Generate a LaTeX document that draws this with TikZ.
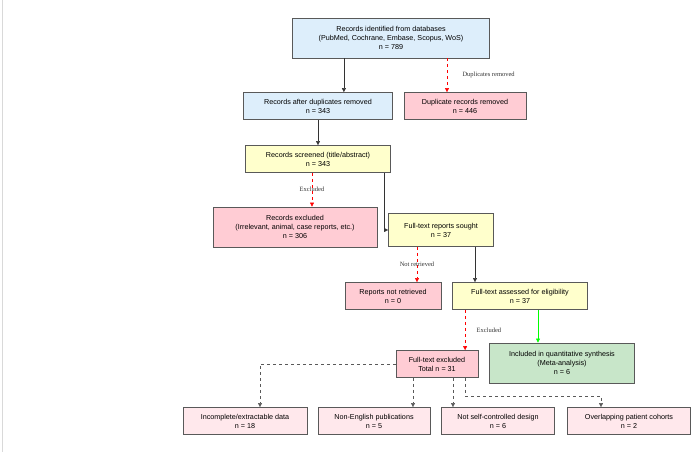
\documentclass[tikz,border=0pt]{standalone}
\usepackage{fontspec}
\setmainfont{Liberation Sans}
\newfontfamily\lblfont{Liberation Serif}
\usetikzlibrary{arrows.meta}
\definecolor{idblue}{HTML}{DDEEFB}
\definecolor{exred}{HTML}{FFCCD4}
\definecolor{scyellow}{HTML}{FFFFCC}
\definecolor{ingreen}{HTML}{C8E6C9}
\definecolor{rspink}{HTML}{FFE8EC}
\begin{document}
\begin{tikzpicture}[x=1pt, y=-1pt, font=\fontsize{7.2}{9}\selectfont,
  box/.style={draw=black!65, thick, align=center, inner sep=1pt, minimum height=27pt},
  flow/.style={-{Triangle[length=4pt,width=4pt]}, black!80},
  drop/.style={-{Triangle[length=4pt,width=4pt]}, red, dashed},
  reason/.style={-{Triangle[length=4pt,width=4pt]}, black!65, dashed},
  lbl/.style={font=\lblfont\fontsize{6.5}{8}\selectfont, text=black!80}]
\useasboundingbox (0,0) rectangle (700,452);
\draw[black!15] (2,0) -- (2,452);
% identification
\node (ident) [box, fill=idblue, minimum width=197pt, minimum height=40pt] at (391,38)
  {Records identified from databases\\(PubMed, Cochrane, Embase, Scopus, WoS)\\n = 789};
\node (dedup) [box, fill=idblue, minimum width=149pt] at (318,106) {Records after duplicates removed\\n = 343};
\node (dupl) [box, fill=exred, minimum width=122pt] at (465,106) {Duplicate records removed\\n = 446};
% screening
\node (screen) [box, fill=scyellow, minimum width=145pt] at (318,159) {Records screened (title/abstract)\\n = 343};
\node (recex) [box, fill=exred, minimum width=164pt, minimum height=40pt] at (295,227)
  {Records excluded\\(Irrelevant, animal, case reports, etc.)\\n = 306};
\node (sought) [box, fill=scyellow, minimum width=105pt, minimum height=33pt] at (441,230) {Full-text reports sought\\n = 37};
\node (notret) [box, fill=exred, minimum width=96pt] at (393,296) {Reports not retrieved\\n = 0};
\node (assess) [box, fill=scyellow, minimum width=135pt] at (520,296) {Full-text assessed for eligibility\\n = 37};
% included / excluded
\node (ftex) [box, fill=exred, minimum width=82pt] at (437,364) {Full-text excluded\\Total n = 31};
\node (incl) [box, fill=ingreen, minimum width=145pt, minimum height=40pt] at (562,363)
  {Included in quantitative synthesis\\(Meta-analysis)\\n = 6};
% reasons
\node (rs1) [box, fill=rspink, minimum width=124pt] at (245,421) {Incomplete/extractable data\\n = 18};
\node (rs2) [box, fill=rspink, minimum width=112pt] at (374,421) {Non-English publications\\n = 5};
\node (rs3) [box, fill=rspink, minimum width=113pt] at (498,421) {Not self-controlled design\\n = 6};
\node (rs4) [box, fill=rspink, minimum width=123pt] at (629,421) {Overlapping patient cohorts\\n = 2};
% connectors
\draw[flow] (ident.south -| dedup.north east) ++(-49,0) coordinate (a1) -- (a1 |- dedup.north);
\draw[drop] (ident.south -| dupl.north) ++(-18,0) coordinate (a2) -- (a2 |- dupl.north)
  node[lbl, midway, right=12pt] {Duplicates removed};
\draw[flow] (dedup) -- (screen);
\draw[drop] (screen.south) ++(-6,0) coordinate (a3) -- (a3 |- recex.north) node[lbl, midway] {Excluded};
\draw[flow] (screen.south east) ++(-7,0) coordinate (a4) |- (sought.west);
\draw[drop] (sought.south) ++(-24,0) coordinate (a5) -- (a5 |- notret.north) node[lbl, midway] {Not retrieved};
\draw[flow] (sought.south) ++(34,0) coordinate (a6) -- (a6 |- assess.north);
\draw[drop] (assess.south west) ++(13,0) coordinate (a7) -- (a7 |- ftex.north) node[lbl, midway, right=8pt] {Excluded};
\draw[-{Triangle[length=4pt,width=4pt]}, green] (assess.south) ++(18,0) coordinate (a8) -- (a8 |- incl.north);
\draw[reason] (ftex.west) -| (rs1.north -| 260,0);
\draw[reason] (ftex.south) ++(-24,0) coordinate (b2) -- (b2 |- rs2.north);
\draw[reason] (ftex.south) ++(16,0) coordinate (b3) -- (b3 |- rs3.north);
\draw[reason] (ftex.south) ++(28,0) coordinate (b4) -- ++(0,18) -| (rs4.north -| 601,0);
\end{tikzpicture}
\end{document}
